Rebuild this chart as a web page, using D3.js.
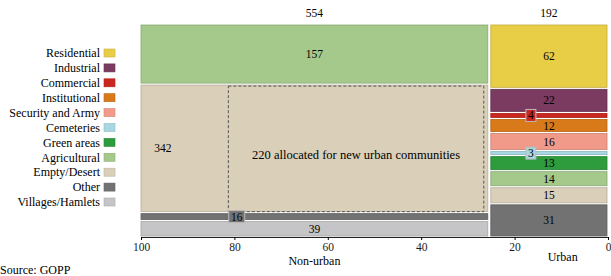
<!DOCTYPE html>
<html>
<head>
<meta charset="utf-8">
<script src="https://cdn.jsdelivr.net/npm/d3@7"></script>
<style>
  body { margin: 0; background: #fff; }
</style>
</head>
<body>
<div id="chart"></div>
<script>
const categories = ["Residential", "Industrial", "Commercial", "Institutional", "Security and Army",
  "Cemeteries", "Green areas", "Agricultural", "Empty/Desert", "Other", "Villages/Hamlets"];
const colors = ["#e8cd47", "#7b3a60", "#c9271f", "#d8791a", "#f29a8a",
  "#a6d7e2", "#2e9b3c", "#a4c98b", "#dacfb8", "#727272", "#c5c5c7"];

const columns = ["Non-urban", "Urban"];
const nonUrbanValues = [0, 0, 0, 0, 0, 0, 0, 157, 342, 16, 39];
const urbanValues = [62, 22, 4, 12, 16, 3, 13, 14, 15, 31, 0];
const columnTotals = [554, 192];
const xTicks = [100, 80, 60, 40, 20, 0];
const allocated = { value: 220, label: "220 allocated for new urban communities" };

const W = 611, H = 276;
const margin = { top: 25, right: 3, bottom: 40, left: 141 };
const FONT = "'Liberation Serif', 'Times New Roman', Times, serif";

const svg = d3.select("#chart").append("svg")
    .attr("width", W)
    .attr("height", H)
    .attr("font-family", FONT)
    .style("font-family", FONT);

const x = d3.scaleLinear().domain([100, 0]).range([margin.left, W - margin.right]);
const plotBottom = H - margin.bottom;

const grand = d3.sum(columnTotals);
const gap = 2;

// column boundaries in axis units
let start = 100;
const colDefs = [nonUrbanValues, urbanValues].map((vals, i) => {
    const w = columnTotals[i] / grand * 100;
    const def = { vals, x0: start, x1: start - w, total: columnTotals[i] };
    start -= w;
    return def;
});

colDefs.forEach((col, ci) => {
    const items = col.vals.map((v, k) => ({ v, k })).filter(d => d.v > 0);
    const avail = (plotBottom - margin.top) - gap * (items.length - 1);
    const y = d3.scaleLinear().domain([0, col.total]).range([0, avail]);
    let cur = margin.top;
    const px0 = x(col.x0) + (ci === 0 ? 0 : gap + 1);
    const px1 = x(col.x1) - (ci === 0 ? 0 : 1);
    items.forEach(d => {
        d.y0 = cur;
        d.h = y(d.v);
        cur += d.h + gap;
    });
    const g = svg.append("g");
    g.selectAll("rect")
        .data(items)
        .enter().append("rect")
        .attr("x", px0)
        .attr("y", d => d.y0)
        .attr("width", px1 - px0)
        .attr("height", d => d.h)
        .attr("fill", d => colors[d.k])
        .attr("stroke", d => d3.color(colors[d.k]).darker(0.5))
        .attr("stroke-width", 0.8);

    // labels
    items.forEach(d => {
        const cx = (px0 + px1) / 2;
        if (d.h < 8) {
            const lx = ci === 0 ? x(79.5) : cx - 18;
            const t = String(d.v);
            const bw = t.length * 6 + 4;
            g.append("rect")
                .attr("x", lx - bw / 2).attr("y", d.y0 + d.h / 2 - 6)
                .attr("width", bw).attr("height", 12)
                .attr("fill", colors[d.k])
                .attr("stroke", "#bbb").attr("stroke-width", 1);
            g.append("text")
                .attr("x", lx).attr("y", d.y0 + d.h / 2)
                .attr("dy", "0.35em").attr("text-anchor", "middle")
                .attr("font-size", 11.5).text(t);
        } else {
            const lx = (ci === 0 && d.k === 8) ? x(95.3) : cx;
            g.append("text")
                .attr("x", lx).attr("y", d.y0 + d.h / 2)
                .attr("dy", "0.35em").attr("text-anchor", "middle")
                .attr("font-size", 11.5).text(d.v);
        }
        if (ci === 0 && d.k === 8) {
            // dashed box for allocated area
            const bx0 = x(81.3), bx1 = x(col.x1) - 4;
            g.append("rect")
                .attr("x", bx0).attr("y", d.y0 + 1)
                .attr("width", bx1 - bx0).attr("height", d.h - 1)
                .attr("fill", "none")
                .attr("stroke", "#555").attr("stroke-width", 1)
                .attr("stroke-dasharray", "3,2");
            g.append("text")
                .attr("x", (bx0 + bx1) / 2).attr("y", d.y0 + d.h / 2 + 6)
                .attr("dy", "0.35em").attr("text-anchor", "middle")
                .attr("font-size", 12.5).text(allocated.label);
        }
    });

    // totals on top
    svg.append("text")
        .attr("x", (px0 + px1) / 2).attr("y", margin.top - 8)
        .attr("text-anchor", "middle").attr("font-size", 11.5)
        .text(col.total);
});

// x axis
const axis = svg.append("g")
    .attr("transform", `translate(0,${plotBottom + 1})`)
    .call(d3.axisBottom(x).tickValues(xTicks).tickSize(3).tickPadding(3));
axis.attr("font-family", FONT);
axis.select(".domain").attr("stroke", "#222");
axis.selectAll("text").attr("font-size", 11.5).attr("fill", "#1a1a1a");

svg.append("text")
    .attr("x", x((colDefs[0].x0 + colDefs[0].x1) / 2)).attr("y", plotBottom + 29)
    .attr("text-anchor", "middle").attr("font-size", 12).text(columns[0]);
svg.append("text")
    .attr("x", x(9.7)).attr("y", plotBottom + 25)
    .attr("text-anchor", "middle").attr("font-size", 12).text(columns[1]);

// legend
const legend = svg.append("g").attr("transform", "translate(0,53)");
const row = legend.selectAll("g")
    .data(categories)
    .enter().append("g")
    .attr("transform", (d, i) => `translate(0,${i * 14.9})`);
row.append("rect")
    .attr("x", 104).attr("y", -4).attr("width", 11).attr("height", 8)
    .attr("fill", (d, i) => colors[i])
    .attr("stroke", (d, i) => d3.color(colors[i]).darker(0.4)).attr("stroke-width", 0.6);
row.append("text")
    .attr("x", 100).attr("y", 0).attr("dy", "0.35em")
    .attr("text-anchor", "end").attr("font-size", 12)
    .text(d => d);

svg.append("text")
    .attr("x", 0).attr("y", 274)
    .attr("font-size", 12).text("Source: GOPP");
</script>
</body>
</html>
